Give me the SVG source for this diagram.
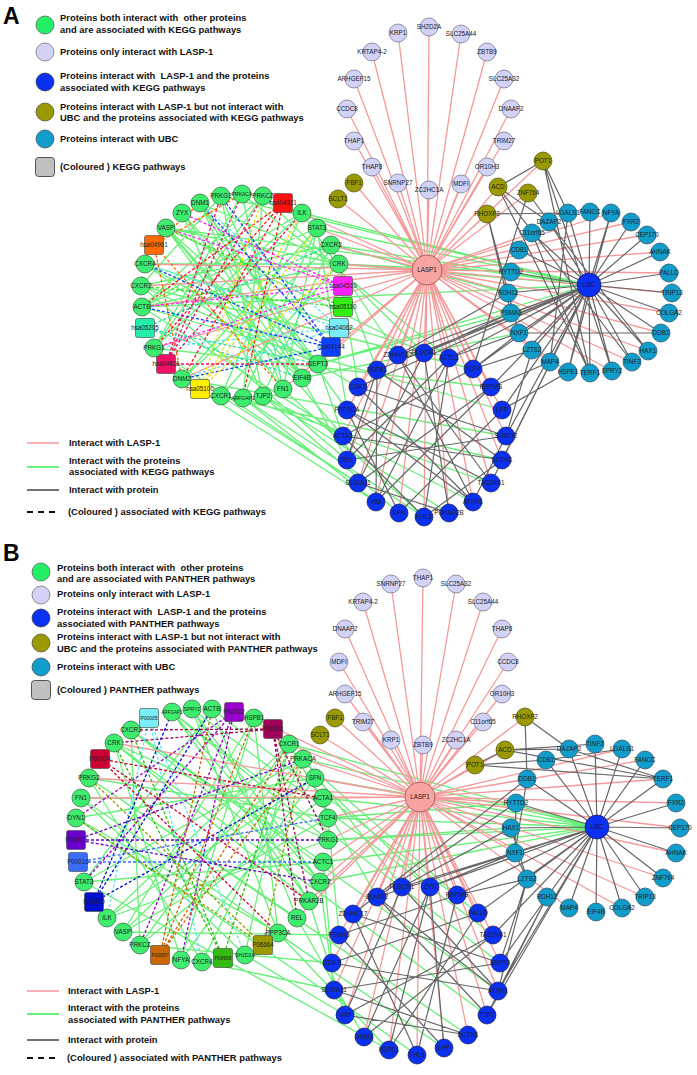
<svg xmlns="http://www.w3.org/2000/svg" width="697" height="1075" viewBox="0 0 697 1075">
<style>
text{font-family:"Liberation Sans",Arial,sans-serif;fill:#222}
.nd text{font-size:6.3px;text-anchor:middle}
.nd text.sm{font-size:5px}
.nd text.xs{font-size:4.6px}
.lg text{font-size:9.4px;font-weight:bold;fill:#111;white-space:pre}
.lg text.pl{font-size:23px;font-weight:bold;fill:#000}
.ng circle,.ng rect{fill:#3ded6e;stroke:#3a5a3a;stroke-width:.7}
.nl circle,.nl rect{fill:#d2d2f6;stroke:#6a6a82;stroke-width:.7}
.nb circle,.nb rect{fill:#0a30f2;stroke:#1a1a50;stroke-width:.7}
.no circle,.no rect{fill:#9a9a00;stroke:#4a4a10;stroke-width:.7}
.nt circle,.nt rect{fill:#119dcc;stroke:#2a4a5a;stroke-width:.7}
.nx circle{fill:#f7a3a0;stroke:#a05050;stroke-width:.8}
.sq rect{stroke:#555;stroke-width:.7}
.pk{stroke:#f59a9a;stroke-width:1.3;fill:none}
.gn{stroke:#66f077;stroke-width:1.3;fill:none}
.gy{stroke:#666;stroke-width:1.2;fill:none}
.ds{stroke-width:1.3;stroke-dasharray:3 2;fill:none}
</style>

<!-- ================= PANEL A ================= -->
<g id="connectors-A">
<path class="gn" d="M200 203L318 364M221 196L302 378M242 194L283 389M263 196L154 348M302 213L142 307M317 228L182 379M331 245L141 286M339 264L166 228M318 364L145 264M302 378L182 213M283 389L200 203M263 396L221 196M243 398L317 228M221 396L339 264M182 379L331 245M154 348L302 213M142 307L263 196M141 286L318 364M145 264L302 378M166 228L283 389M182 213L263 396M200 203L339 264M221 196L141 286M242 194L154 348M263 196L243 398M302 213L221 396M317 228L142 307M331 245L182 379M339 264L145 264M318 364L166 228M302 378L200 203M283 389L317 228M263 396L331 245M142 307L339 264M182 213L318 364M166 228L302 378
M243 398L376 502M263 396L399 513M221 396L358 483M283 389L424 517M302 378L347 460M318 364L343 436M200 203L347 410M154 348L358 483M182 379L376 502M142 307L343 436M339 264L358 387M331 245L377 370M317 228L347 410M302 213L398 355M263 196L424 353M242 194L449 358M141 286L347 460M145 264L358 387M243 398L424 517M263 396L449 513M166 228L343 436
M339 264L589 285M331 245L589 285M317 228L589 285M302 213L589 285M318 364L589 285M142 307L589 285M166 228L589 285M221 196L589 285M339 264L511 272M331 245L508 293M318 364L511 313M302 378L519 333
M473 369L141 286M491 387L154 348M502 410L142 307M506 436L182 379M502 460L221 396M491 483L243 398M473 502L263 396M449 358L145 264M424 353L166 228"/>
<path class="pk" d="M427 270L398 33M427 270L429 27M427 270L461 34M427 270L487 52M427 270L504 79M427 270L511 109M427 270L504 141M427 270L487 167M427 270L461 184M427 270L429 190M427 270L398 183M427 270L372 167M427 270L354 141M427 270L347 109M427 270L354 79M427 270L372 52
M427 270L354 183M427 270L338 199M427 270L543 161M427 270L498 187M427 270L528 193M427 270L487 214
M427 270L377 370M427 270L398 355M427 270L424 353M427 270L449 358M427 270L473 369M427 270L491 387M427 270L502 410M427 270L506 436M427 270L502 460M427 270L491 483M427 270L473 502M427 270L449 513M427 270L424 517M427 270L399 513M427 270L376 502M427 270L358 483M427 270L347 460M427 270L343 436M427 270L347 410M427 270L358 387
M427 270L660 252M427 270L669 273M427 270L672 293M427 270L669 313M427 270L661 333M427 270L648 351M427 270L632 362M427 270L612 371M427 270L647 235M427 270L631 222M427 270L611 213M427 270L532 233M427 270L550 362M427 270L568 372
M427 270L317 228M427 270L331 245M427 270L339 264M427 270L302 213M427 270L318 364M427 270L142 307M427 270L141 286M427 270L154 348M427 270L182 379M427 270L302 378M427 270L145 264M427 270L283 389"/>
<path class="gy" d="M589 285L660 252M589 285L669 273M589 285L672 293M589 285L669 313M589 285L661 333M589 285L648 351M589 285L632 362M589 285L612 371M589 285L590 373M589 285L568 372M589 285L550 362M589 285L532 350M589 285L519 333M589 285L511 313M589 285L508 293M589 285L511 272M589 285L519 250M589 285L532 233M589 285L549 222M589 285L568 213M589 285L590 212M589 285L611 213M589 285L631 222M589 285L647 235
M589 285L449 358M589 285L473 369M589 285L491 387M589 285L502 410M589 285L506 436M589 285L502 460M589 285L424 353M589 285L398 355M589 285L377 370M589 285L491 483M589 285L358 387
M543 161L498 187M543 161L568 213M543 161L590 373M543 161L612 371M498 187L549 222M498 187L632 362M498 187L590 373M528 193L473 369M528 193L549 222M487 214L511 313M487 214L568 213M487 214L519 333
M519 333L661 333M549 222L648 351M568 213L550 362M611 213L568 372M532 233L590 373
M519 333L449 358M519 333L473 369M532 350L473 369M511 313L424 353M550 362L491 387M508 293L398 355M568 372L502 410M532 350L506 436
M377 370L376 502M398 355L473 502M424 353L358 483M449 358L347 460M473 369L343 436M491 387L376 502M502 410L399 513M506 436L358 387M502 460L377 370M491 483L398 355M473 502L347 410M449 513L424 353M424 517L449 358M399 513L502 410M358 483L491 387M347 460L506 436M343 436L502 460M347 410L491 483M358 387L473 502M376 502L449 358M399 513L347 410M424 517L502 460M473 502L506 436M343 436L424 517M358 483L449 513M377 370L347 460"/>
<path class="ds" stroke="#ff1111" d="M283 203L154 348M283 203L182 379M283 203L142 307M283 203L243 398"/>
<path class="ds" stroke="#ff22ff" d="M343 286L166 228M343 286L142 307M343 286L182 213M343 286L154 348"/>
<path class="ds" stroke="#33dd11" d="M343 307L141 286M343 307L166 228"/>
<path class="ds" stroke="#55e8f5" d="M339 328L145 264M339 328L154 348M339 328L200 203M339 328L182 379"/>
<path class="ds" stroke="#1040ff" d="M331 347L200 203M331 347L142 307M331 347L182 379M331 347L221 196M331 347L145 264"/>
<path class="ds" stroke="#f2e000" d="M200 389L302 213M200 389L339 264M200 389L317 228M200 389L263 196"/>
<path class="ds" stroke="#ee1166" d="M166 364L263 196M166 364L242 194M166 364L221 196M166 364L302 213M166 364L318 364"/>
<path class="ds" stroke="#22ddaa" d="M145 328L331 245M145 328L318 364M145 328L302 378"/>
<path class="ds" stroke="#ff6a00" d="M154 245L200 203M154 245L182 379M154 245L242 194M154 245L283 389"/>
</g>

<g id="legend-A" class="lg">
<text class="pl" x="3" y="24">A</text>
<circle cx="45" cy="25" r="9" fill="#22ee66" stroke="#555" stroke-width=".7"/>
<text x="60" y="21">Proteins both interact with  other proteins</text>
<text x="60" y="33">and are associated with KEGG pathways</text>
<circle cx="45" cy="52" r="9" fill="#d2d2f6" stroke="#666" stroke-width=".7"/>
<text x="60" y="55">Proteins only interact with LASP-1</text>
<circle cx="45" cy="82" r="9" fill="#0a30f2" stroke="#333" stroke-width=".7"/>
<text x="60" y="79">Proteins interact with  LASP-1 and the proteins</text>
<text x="60" y="91">associated with KEGG pathways</text>
<circle cx="45" cy="112" r="9" fill="#9a9a00" stroke="#444" stroke-width=".7"/>
<text x="60" y="110">Proteins interact with LASP-1 but not interact with</text>
<text x="60" y="121">UBC and the proteins associated with KEGG pathways</text>
<circle cx="45" cy="139" r="9" fill="#119dcc" stroke="#444" stroke-width=".7"/>
<text x="60" y="142">Proteins interact with UBC</text>
<rect x="35.5" y="157.5" width="19" height="19" rx="3" fill="#c0c0c0" stroke="#444" stroke-width=".9"/>
<text x="60" y="170">(Coloured ) KEGG pathways</text>
<line x1="27" y1="443" x2="59" y2="443" stroke="#f59a9a" stroke-width="1.5"/>
<text x="69" y="446">Interact with LASP-1</text>
<line x1="27" y1="467" x2="59" y2="467" stroke="#33ee55" stroke-width="1.5"/>
<text x="69" y="464">Interact with the proteins</text>
<text x="69" y="475">associated with KEGG pathways</text>
<line x1="27" y1="490" x2="59" y2="490" stroke="#444" stroke-width="1.5"/>
<text x="69" y="493">Interact with protein</text>
<line x1="27" y1="512" x2="59" y2="512" stroke="#111" stroke-width="1.8" stroke-dasharray="6 5"/>
<text x="68" y="515">(Coloured ) associated with KEGG pathways</text>
</g>

<g class="nd">
<g id="a-KRP1" class="nl"><circle cx="398" cy="33" r="9"/><text x="398" y="35">KRP1</text></g>
<g id="a-SH2D2A" class="nl"><circle cx="429" cy="27" r="9"/><text x="429" y="29">SH2D2A</text></g>
<g id="a-SLC25A44" class="nl"><circle cx="461" cy="34" r="9"/><text x="461" y="36">SLC25A44</text></g>
<g id="a-ZBTB9" class="nl"><circle cx="487" cy="52" r="9"/><text x="487" y="54">ZBTB9</text></g>
<g id="a-SLC25A32" class="nl"><circle cx="504" cy="79" r="9"/><text x="504" y="81">SLC25A32</text></g>
<g id="a-DNAAF2" class="nl"><circle cx="511" cy="109" r="9"/><text x="511" y="111">DNAAF2</text></g>
<g id="a-TRIM27" class="nl"><circle cx="504" cy="141" r="9"/><text x="504" y="143">TRIM27</text></g>
<g id="a-OR10H3" class="nl"><circle cx="487" cy="167" r="9"/><text x="487" y="169">OR10H3</text></g>
<g id="a-MDFI" class="nl"><circle cx="461" cy="184" r="9"/><text x="461" y="186">MDFI</text></g>
<g id="a-ZC2HC1A" class="nl"><circle cx="429" cy="190" r="9"/><text x="429" y="192">ZC2HC1A</text></g>
<g id="a-SNRNP27" class="nl"><circle cx="398" cy="183" r="9"/><text x="398" y="185">SNRNP27</text></g>
<g id="a-THAP8" class="nl"><circle cx="372" cy="167" r="9"/><text x="372" y="169">THAP8</text></g>
<g id="a-THAP1" class="nl"><circle cx="354" cy="141" r="9"/><text x="354" y="143">THAP1</text></g>
<g id="a-CCDC8" class="nl"><circle cx="347" cy="109" r="9"/><text x="347" y="111">CCDC8</text></g>
<g id="a-ARHGEF15" class="nl"><circle cx="354" cy="79" r="9"/><text x="354" y="81">ARHGEF15</text></g>
<g id="a-KRTAP4-2" class="nl"><circle cx="372" cy="52" r="9"/><text x="372" y="54">KRTAP4-2</text></g>
<g id="a-FBF1" class="no"><circle cx="354" cy="183" r="9"/><text x="354" y="185">FBF1</text></g>
<g id="a-SCLT1" class="no"><circle cx="338" cy="199" r="9"/><text x="338" y="201">SCLT1</text></g>
<g id="a-POT1" class="no"><circle cx="543" cy="161" r="9"/><text x="543" y="163">POT1</text></g>
<g id="a-ACD" class="no"><circle cx="498" cy="187" r="9"/><text x="498" y="189">ACD</text></g>
<g id="a-ZNF764" class="no"><circle cx="528" cy="193" r="9"/><text x="528" y="195">ZNF764</text></g>
<g id="a-RHOXF2" class="no"><circle cx="487" cy="214" r="9"/><text x="487" y="216">RHOXF2</text></g>
<g id="a-LASP1" class="nx"><circle cx="427" cy="270" r="15"/><text x="427" y="272">LASP1</text></g>
<g id="a-UBC" class="nb"><circle cx="589" cy="285" r="12"/><text x="589" y="287">UBC</text></g>
<g id="a-AHNAK" class="nt"><circle cx="660" cy="252" r="9"/><text x="660" y="254">AHNAK</text></g>
<g id="a-PALLD" class="nt"><circle cx="669" cy="273" r="9"/><text x="669" y="275">PALLD</text></g>
<g id="a-TRIP13" class="nt"><circle cx="672" cy="293" r="9"/><text x="672" y="295">TRIP13</text></g>
<g id="a-COLGA2" class="nt"><circle cx="669" cy="313" r="9"/><text x="669" y="315">COLGA2</text></g>
<g id="a-DDB1" class="nt"><circle cx="661" cy="333" r="9"/><text x="661" y="335">DDB1</text></g>
<g id="a-HAX1" class="nt"><circle cx="648" cy="351" r="9"/><text x="648" y="353">HAX1</text></g>
<g id="a-TINF2" class="nt"><circle cx="632" cy="362" r="9"/><text x="632" y="364">TINF2</text></g>
<g id="a-SPRY2" class="nt"><circle cx="612" cy="371" r="9"/><text x="612" y="373">SPRY2</text></g>
<g id="a-TERF1" class="nt"><circle cx="590" cy="373" r="9"/><text x="590" y="375">TERF1</text></g>
<g id="a-HSPE1" class="nt"><circle cx="568" cy="372" r="9"/><text x="568" y="374">HSPE1</text></g>
<g id="a-MAP4" class="nt"><circle cx="550" cy="362" r="9"/><text x="550" y="364">MAP4</text></g>
<g id="a-LZTS2" class="nt"><circle cx="532" cy="350" r="9"/><text x="532" y="352">LZTS2</text></g>
<g id="a-NXF1" class="nt"><circle cx="519" cy="333" r="9"/><text x="519" y="335">NXF1</text></g>
<g id="a-PSMA3" class="nt"><circle cx="511" cy="313" r="9"/><text x="511" y="315">PSMA3</text></g>
<g id="a-RDH12" class="nt"><circle cx="508" cy="293" r="9"/><text x="508" y="295">RDH12</text></g>
<g id="a-RYTTD2" class="nt"><circle cx="511" cy="272" r="9"/><text x="511" y="274">RYTTD2</text></g>
<g id="a-CD81" class="nt"><circle cx="519" cy="250" r="9"/><text x="519" y="252">CD81</text></g>
<g id="a-C11orf65" class="nt"><circle cx="532" cy="233" r="9"/><text x="532" y="235">C11orf65</text></g>
<g id="a-DAZAP2" class="nt"><circle cx="549" cy="222" r="9"/><text x="549" y="224">DAZAP2</text></g>
<g id="a-LGALS1" class="nt"><circle cx="568" cy="213" r="9"/><text x="568" y="215">LGALS1</text></g>
<g id="a-FANCC" class="nt"><circle cx="590" cy="212" r="9"/><text x="590" y="214">FANCC</text></g>
<g id="a-NFYA" class="nt"><circle cx="611" cy="213" r="9"/><text x="611" y="215">NFYA</text></g>
<g id="a-FXR2" class="nt"><circle cx="631" cy="222" r="9"/><text x="631" y="224">FXR2</text></g>
<g id="a-CEP170" class="nt"><circle cx="647" cy="235" r="9"/><text x="647" y="237">CEP170</text></g>
<g id="a-HSPB1" class="nb"><circle cx="377" cy="370" r="9"/><text x="377" y="372">HSPB1</text></g>
<g id="a-ZDHHC17" class="nb"><circle cx="398" cy="355" r="9"/><text x="398" y="357">ZDHHC17</text></g>
<g id="a-PLSCR1" class="nb"><circle cx="424" cy="353" r="9"/><text x="424" y="355">PLSCR1</text></g>
<g id="a-ACTC1" class="nb"><circle cx="449" cy="358" r="9"/><text x="449" y="360">ACTC1</text></g>
<g id="a-TCF4" class="nb"><circle cx="473" cy="369" r="9"/><text x="473" y="371">TCF4</text></g>
<g id="a-RBPMS" class="nb"><circle cx="491" cy="387" r="9"/><text x="491" y="389">RBPMS</text></g>
<g id="a-LPP" class="nb"><circle cx="502" cy="410" r="9"/><text x="502" y="412">LPP</text></g>
<g id="a-SUMO2" class="nb"><circle cx="506" cy="436" r="9"/><text x="506" y="438">SUMO2</text></g>
<g id="a-DCTN1" class="nb"><circle cx="502" cy="460" r="9"/><text x="502" y="462">DCTN1</text></g>
<g id="a-TAS2R41" class="nb"><circle cx="491" cy="483" r="9"/><text x="491" y="485">TAS2R41</text></g>
<g id="a-ATXN1" class="nb"><circle cx="473" cy="502" r="9"/><text x="473" y="504">ATXN1</text></g>
<g id="a-PRKAR2B" class="nb"><circle cx="449" cy="513" r="9"/><text x="449" y="515">PRKAR2B</text></g>
<g id="a-FHL3" class="nb"><circle cx="424" cy="517" r="9"/><text x="424" y="519">FHL3</text></g>
<g id="a-SFN" class="nb"><circle cx="399" cy="513" r="9"/><text x="399" y="515">SFN</text></g>
<g id="a-VIM" class="nb"><circle cx="376" cy="502" r="9"/><text x="376" y="504">VIM</text></g>
<g id="a-S100A11" class="nb"><circle cx="358" cy="483" r="9"/><text x="358" y="485">S100A11</text></g>
<g id="a-REL" class="nb"><circle cx="347" cy="460" r="9"/><text x="347" y="462">REL</text></g>
<g id="a-ACTA1" class="nb"><circle cx="343" cy="436" r="9"/><text x="343" y="438">ACTA1</text></g>
<g id="a-PPP3CA" class="nb"><circle cx="347" cy="410" r="9"/><text x="347" y="412">PPP3CA</text></g>
<g id="a-CDK7" class="nb"><circle cx="358" cy="387" r="9"/><text x="358" y="389">CDK7</text></g>
<g id="a-DNM1" class="ng"><circle cx="200" cy="203" r="9"/><text x="200" y="205">DNM1</text></g>
<g id="a-PRKG2" class="ng"><circle cx="221" cy="196" r="9"/><text x="221" y="198">PRKG2</text></g>
<g id="a-PRKACA" class="ng"><circle cx="242" cy="194" r="9"/><text class="sm" x="242" y="196">PRKACA</text></g>
<g id="a-PRKCZ" class="ng"><circle cx="263" cy="196" r="9"/><text x="263" y="198">PRKCZ</text></g>
<g id="a-hsa04921" class="sq"><rect x="273.5" y="193.5" width="19" height="19" rx="2" fill="#ff1111"/><text x="283" y="205">hsa04921</text></g>
<g id="a-ILK" class="ng"><circle cx="302" cy="213" r="9"/><text x="302" y="215">ILK</text></g>
<g id="a-STAT3" class="ng"><circle cx="317" cy="228" r="9"/><text x="317" y="230">STAT3</text></g>
<g id="a-CXCR3" class="ng"><circle cx="331" cy="245" r="9"/><text x="331" y="247">CXCR3</text></g>
<g id="a-CRK" class="ng"><circle cx="339" cy="264" r="9"/><text x="339" y="266">CRK</text></g>
<g id="a-hsa04510" class="sq"><rect x="333.5" y="276.5" width="19" height="19" rx="2" fill="#ff22ff"/><text x="343" y="288">hsa04510</text></g>
<g id="a-hsa05110" class="sq"><rect x="333.5" y="297.5" width="19" height="19" rx="2" fill="#33ee11"/><text x="343" y="309">hsa05110</text></g>
<g id="a-hsa04062" class="sq"><rect x="329.5" y="318.5" width="19" height="19" rx="2" fill="#77eef8"/><text x="339" y="330">hsa04062</text></g>
<g id="a-hsa04144" class="sq"><rect x="321.5" y="337.5" width="19" height="19" rx="2" fill="#0a40ff"/><text x="331" y="349">hsa04144</text></g>
<g id="a-SEPT3" class="ng"><circle cx="318" cy="364" r="9"/><text x="318" y="366">SEPT3</text></g>
<g id="a-EIF4B" class="ng"><circle cx="302" cy="378" r="9"/><text x="302" y="380">EIF4B</text></g>
<g id="a-FN1" class="ng"><circle cx="283" cy="389" r="9"/><text x="283" y="391">FN1</text></g>
<g id="a-TJP2" class="ng"><circle cx="263" cy="396" r="9"/><text x="263" y="398">TJP2</text></g>
<g id="a-ARFGAP1" class="ng"><circle cx="243" cy="398" r="9"/><text class="sm" x="243" y="400">ARFGAP1</text></g>
<g id="a-CXCR1" class="ng"><circle cx="221" cy="396" r="9"/><text x="221" y="398">CXCR1</text></g>
<g id="a-hsa05100" class="sq"><rect x="190.5" y="379.5" width="19" height="19" rx="2" fill="#ffee00"/><text x="200" y="391">hsa05100</text></g>
<g id="a-DNM2" class="ng"><circle cx="182" cy="379" r="9"/><text x="182" y="381">DNM2</text></g>
<g id="a-hsa04611" class="sq"><rect x="156.5" y="354.5" width="19" height="19" rx="2" fill="#ee1166"/><text x="166" y="366">hsa04611</text></g>
<g id="a-PRKG1" class="ng"><circle cx="154" cy="348" r="9"/><text x="154" y="350">PRKG1</text></g>
<g id="a-hsa05205" class="sq"><rect x="135.5" y="318.5" width="19" height="19" rx="2" fill="#22eeaa"/><text x="145" y="330">hsa05205</text></g>
<g id="a-ACTB" class="ng"><circle cx="142" cy="307" r="9"/><text x="142" y="309">ACTB</text></g>
<g id="a-CXCR2" class="ng"><circle cx="141" cy="286" r="9"/><text x="141" y="288">CXCR2</text></g>
<g id="a-CXCR4" class="ng"><circle cx="145" cy="264" r="9"/><text x="145" y="266">CXCR4</text></g>
<g id="a-hsa04961" class="sq"><rect x="144.5" y="235.5" width="19" height="19" rx="2" fill="#ff6a00"/><text x="154" y="247">hsa04961</text></g>
<g id="a-VASP" class="ng"><circle cx="166" cy="228" r="9"/><text x="166" y="230">VASP</text></g>
<g id="a-ZYX" class="ng"><circle cx="182" cy="213" r="9"/><text x="182" y="215">ZYX</text></g>
</g>

<!-- ================= PANEL B ================= -->
<g id="connectors-B">
<path class="gn" d="M172 712L309 901M192 709L320 882M212 709L297 918M254 718L123 932M289 744L107 918M303 759L84 882M315 778L76 818M323 798L81 798M328 818L89 778M328 840L114 743M323 862L131 730M320 882L172 712M309 901L192 709M297 918L212 709M278 933L254 718M245 955L289 744M202 962L303 759M181 960L315 778M140 945L323 798M123 932L328 818M107 918L328 840M84 882L323 862M76 818L278 933M81 798L245 955M89 778L202 962M114 743L181 960M131 730L140 945M212 709L84 882M192 709L278 933M254 718L181 960M289 744L140 945M303 759L123 932M315 778L107 918M172 712L328 840M131 730L320 882M114 743L309 901M89 778L297 918
M328 818L339 935M323 862L332 963M320 882L334 990M309 901L345 1015M297 918L364 1037M278 933L389 1050M245 955L345 1015M202 962L334 990M140 945L332 963M123 932L339 935M289 744L377 897M303 759L402 887M315 778L430 887M254 718L457 895M212 709L478 913M192 709L493 935M172 712L500 963M131 730L498 991M114 743L487 1015M89 778L468 1035M81 798L444 1048M76 818L417 1055M84 882L389 1050
M323 798L597 827M328 818L597 827M328 840L597 827M323 862L597 827M315 778L597 827M303 759L597 827M289 744L597 827M320 882L597 827M328 818L516 803M328 840L511 828"/>
<path class="pk" d="M420 797L423 578M420 797L456 584M420 797L483 602M420 797L502 629M420 797L508 662M420 797L502 694M420 797L483 722M420 797L456 740M420 797L423 745M420 797L391 740M420 797L363 722M420 797L345 694M420 797L339 662M420 797L345 629M420 797L363 602M420 797L391 584
M420 797L335 718M420 797L320 735M420 797L525 717M420 797L505 750M420 797L475 765
M420 797L377 897M420 797L402 887M420 797L430 887M420 797L457 895M420 797L478 913M420 797L493 935M420 797L500 963M420 797L498 991M420 797L487 1015M420 797L468 1035M420 797L444 1048M420 797L417 1055M420 797L389 1050M420 797L364 1037M420 797L345 1015M420 797L334 990M420 797L332 963M420 797L339 935M420 797L353 914
M420 797L676 803M420 797L680 828M420 797L676 853M420 797L663 878M420 797L645 897M420 797L622 908M420 797L663 779M420 797L645 760M420 797L622 749M420 797L527 779M420 797L516 803M420 797L511 828M420 797L515 853M420 797L569 908
M420 797L289 744M420 797L303 759M420 797L315 778M420 797L323 798M420 797L328 818M420 797L328 840M420 797L323 862M420 797L320 882M420 797L309 901M420 797L297 918M420 797L89 778M420 797L81 798M420 797L114 743M420 797L254 718"/>
<path class="gy" d="M597 827L569 749M597 827L595 744M597 827L622 749M597 827L645 760M597 827L663 779M597 827L676 803M597 827L680 828M597 827L676 853M597 827L663 878M597 827L645 897M597 827L622 908M597 827L596 912M597 827L569 908M597 827L547 897M597 827L527 879M597 827L515 853M597 827L511 828M597 827L516 803M597 827L527 779M597 827L546 760
M597 827L457 895M597 827L478 913M597 827L493 935M597 827L500 963M597 827L498 991M597 827L430 887M597 827L402 887M597 827L487 1015M597 827L377 897
M525 717L569 749M525 717L527 779M505 750L569 749M505 750L663 779M475 765L546 760M475 765L663 779M475 765L505 750M505 750L595 744
M527 779L515 853M516 803L515 853M511 828L527 879M515 853L527 879M546 760L622 749M569 749L663 779
M527 879L500 963M527 879L498 991M547 897L498 991M547 897L487 1015M515 853L430 887M511 828L402 887M527 879L457 895M516 803L377 897M527 779L353 914
M377 897L487 1015M402 887L345 1015M430 887L364 1037M457 895L339 935M478 913L332 963M493 935L345 1015M500 963L353 914M498 991L377 897M468 1035L334 990M444 1048L430 887M417 1055L457 895M389 1050L478 913M364 1037L493 935M345 1015L468 1035M334 990L500 963M332 963L498 991M339 935L444 1048M353 914L417 1055M430 887L389 1050M402 887L498 991"/>
<path class="ds" stroke="#55e8f5" d="M149 718L245 955M149 718L202 962M149 718L107 918"/>
<path class="ds" stroke="#9a00cc" d="M234 712L140 945M234 712L84 882M234 712L181 960M234 712L76 818"/>
<path class="ds" stroke="#a0005a" d="M273 729L131 730M273 729L114 743M273 729L309 901M273 729L297 918M273 729L328 840"/>
<path class="ds" stroke="#9a9a00" d="M263 945L76 818M263 945L89 778M263 945L303 759"/>
<path class="ds" stroke="#33bb11" d="M223 958L114 743M223 958L131 730M223 958L289 744"/>
<path class="ds" stroke="#cc6600" d="M160 955L212 709M160 955L254 718M160 955L289 744M160 955L303 759"/>
<path class="ds" stroke="#0010cc" d="M94 902L212 709M94 902L315 778M94 902L172 712"/>
<path class="ds" stroke="#3a6cff" d="M78 862L323 862M78 862L328 818"/>
<path class="ds" stroke="#6a00cc" d="M76 840L328 840M76 840L303 759M76 840L320 882"/>
<path class="ds" stroke="#cc0033" d="M100 759L323 798M100 759L309 901M100 759L278 933"/>
</g>

<g id="legend-B" class="lg">
<text class="pl" x="3" y="561">B</text>
<circle cx="41" cy="572" r="9" fill="#22ee66" stroke="#555" stroke-width=".7"/>
<text x="57" y="571">Proteins both interact with  other proteins</text>
<text x="57" y="582">and are associated with PANTHER pathways</text>
<circle cx="41" cy="595" r="9" fill="#d2d2f6" stroke="#666" stroke-width=".7"/>
<text x="57" y="597">Proteins only interact with LASP-1</text>
<circle cx="41" cy="618" r="9" fill="#0a30f2" stroke="#333" stroke-width=".7"/>
<text x="57" y="615">Proteins interact with  LASP-1 and the proteins</text>
<text x="57" y="627">associated with PANTHER pathways</text>
<circle cx="41" cy="643" r="9" fill="#9a9a00" stroke="#444" stroke-width=".7"/>
<text x="57" y="640">Proteins interact with LASP-1 but not interact with</text>
<text x="57" y="652">UBC and the proteins associated with PANTHER pathways</text>
<circle cx="41" cy="667" r="9" fill="#119dcc" stroke="#444" stroke-width=".7"/>
<text x="57" y="670">Proteins interact with UBC</text>
<rect x="31.5" y="680.5" width="19" height="19" rx="3" fill="#c0c0c0" stroke="#444" stroke-width=".9"/>
<text x="57" y="693">(Coloured ) PANTHER pathways</text>
<line x1="27" y1="991" x2="59" y2="991" stroke="#f59a9a" stroke-width="1.5"/>
<text x="68" y="994">Interact with LASP-1</text>
<line x1="27" y1="1014" x2="59" y2="1014" stroke="#33ee55" stroke-width="1.5"/>
<text x="68" y="1011">Interact with the proteins</text>
<text x="68" y="1023">associated with PANTHER pathways</text>
<line x1="27" y1="1040" x2="59" y2="1040" stroke="#444" stroke-width="1.5"/>
<text x="68" y="1043">Interact with protein</text>
<line x1="27" y1="1058" x2="59" y2="1058" stroke="#111" stroke-width="1.8" stroke-dasharray="6 5"/>
<text x="67" y="1061">(Coloured ) associated with PANTHER pathways</text>
</g>

<g class="nd">
<g id="b-THAP1" class="nl"><circle cx="423" cy="578" r="9"/><text x="423" y="580">THAP1</text></g>
<g id="b-SLC25A32" class="nl"><circle cx="456" cy="584" r="9"/><text x="456" y="586">SLC25A32</text></g>
<g id="b-SLC25A44" class="nl"><circle cx="483" cy="602" r="9"/><text x="483" y="604">SLC25A44</text></g>
<g id="b-THAP8" class="nl"><circle cx="502" cy="629" r="9"/><text x="502" y="631">THAP8</text></g>
<g id="b-CCDC8" class="nl"><circle cx="508" cy="662" r="9"/><text x="508" y="664">CCDC8</text></g>
<g id="b-OR10H3" class="nl"><circle cx="502" cy="694" r="9"/><text x="502" y="696">OR10H3</text></g>
<g id="b-C11orf65" class="nl"><circle cx="483" cy="722" r="9"/><text x="483" y="724">C11orf65</text></g>
<g id="b-ZC2HC1A" class="nl"><circle cx="456" cy="740" r="9"/><text x="456" y="742">ZC2HC1A</text></g>
<g id="b-ZBTB9" class="nl"><circle cx="423" cy="745" r="9"/><text x="423" y="747">ZBTB9</text></g>
<g id="b-KRP1" class="nl"><circle cx="391" cy="740" r="9"/><text x="391" y="742">KRP1</text></g>
<g id="b-TRIM27" class="nl"><circle cx="363" cy="722" r="9"/><text x="363" y="724">TRIM27</text></g>
<g id="b-ARHGEF15" class="nl"><circle cx="345" cy="694" r="9"/><text x="345" y="696">ARHGEF15</text></g>
<g id="b-MDFI" class="nl"><circle cx="339" cy="662" r="9"/><text x="339" y="664">MDFI</text></g>
<g id="b-DNAAF2" class="nl"><circle cx="345" cy="629" r="9"/><text x="345" y="631">DNAAF2</text></g>
<g id="b-KRTAP4-2" class="nl"><circle cx="363" cy="602" r="9"/><text x="363" y="604">KRTAP4-2</text></g>
<g id="b-SNRNP27" class="nl"><circle cx="391" cy="584" r="9"/><text x="391" y="586">SNRNP27</text></g>
<g id="b-FBF1" class="no"><circle cx="335" cy="718" r="9"/><text x="335" y="720">FBF1</text></g>
<g id="b-SCLT1" class="no"><circle cx="320" cy="735" r="9"/><text x="320" y="737">SCLT1</text></g>
<g id="b-RHOXF2" class="no"><circle cx="525" cy="717" r="9"/><text x="525" y="719">RHOXF2</text></g>
<g id="b-ACD" class="no"><circle cx="505" cy="750" r="9"/><text x="505" y="752">ACD</text></g>
<g id="b-POT1" class="no"><circle cx="475" cy="765" r="9"/><text x="475" y="767">POT1</text></g>
<g id="b-LASP1" class="nx"><circle cx="420" cy="797" r="15"/><text x="420" y="799">LASP1</text></g>
<g id="b-UBC" class="nb"><circle cx="597" cy="827" r="12"/><text x="597" y="829">UBC</text></g>
<g id="b-DAZAP2" class="nt"><circle cx="569" cy="749" r="9"/><text x="569" y="751">DAZAP2</text></g>
<g id="b-TINF2" class="nt"><circle cx="595" cy="744" r="9"/><text x="595" y="746">TINF2</text></g>
<g id="b-LGALS1" class="nt"><circle cx="622" cy="749" r="9"/><text x="622" y="751">LGALS1</text></g>
<g id="b-FANCC" class="nt"><circle cx="645" cy="760" r="9"/><text x="645" y="762">FANCC</text></g>
<g id="b-TERF1" class="nt"><circle cx="663" cy="779" r="9"/><text x="663" y="781">TERF1</text></g>
<g id="b-FXR2" class="nt"><circle cx="676" cy="803" r="9"/><text x="676" y="805">FXR2</text></g>
<g id="b-CEP170" class="nt"><circle cx="680" cy="828" r="9"/><text x="680" y="830">CEP170</text></g>
<g id="b-AHNAK" class="nt"><circle cx="676" cy="853" r="9"/><text x="676" y="855">AHNAK</text></g>
<g id="b-ZNF764" class="nt"><circle cx="663" cy="878" r="9"/><text x="663" y="880">ZNF764</text></g>
<g id="b-TRIP13" class="nt"><circle cx="645" cy="897" r="9"/><text x="645" y="899">TRIP13</text></g>
<g id="b-COLGA2" class="nt"><circle cx="622" cy="908" r="9"/><text x="622" y="910">COLGA2</text></g>
<g id="b-EIF4B" class="nt"><circle cx="596" cy="912" r="9"/><text x="596" y="914">EIF4B</text></g>
<g id="b-MAP4" class="nt"><circle cx="569" cy="908" r="9"/><text x="569" y="910">MAP4</text></g>
<g id="b-RDH12" class="nt"><circle cx="547" cy="897" r="9"/><text x="547" y="899">RDH12</text></g>
<g id="b-LZTS2" class="nt"><circle cx="527" cy="879" r="9"/><text x="527" y="881">LZTS2</text></g>
<g id="b-NXF1" class="nt"><circle cx="515" cy="853" r="9"/><text x="515" y="855">NXF1</text></g>
<g id="b-HAX1" class="nt"><circle cx="511" cy="828" r="9"/><text x="511" y="830">HAX1</text></g>
<g id="b-RYTTD2" class="nt"><circle cx="516" cy="803" r="9"/><text x="516" y="805">RYTTD2</text></g>
<g id="b-DDB1" class="nt"><circle cx="527" cy="779" r="9"/><text x="527" y="781">DDB1</text></g>
<g id="b-CD81" class="nt"><circle cx="546" cy="760" r="9"/><text x="546" y="762">CD81</text></g>
<g id="b-SUMO2" class="nb"><circle cx="377" cy="897" r="9"/><text x="377" y="899">SUMO2</text></g>
<g id="b-PLSCR1" class="nb"><circle cx="402" cy="887" r="9"/><text x="402" y="889">PLSCR1</text></g>
<g id="b-ZYX" class="nb"><circle cx="430" cy="887" r="9"/><text x="430" y="889">ZYX</text></g>
<g id="b-RBPMS" class="nb"><circle cx="457" cy="895" r="9"/><text x="457" y="897">RBPMS</text></g>
<g id="b-PALLD" class="nb"><circle cx="478" cy="913" r="9"/><text x="478" y="915">PALLD</text></g>
<g id="b-TAS2R41" class="nb"><circle cx="493" cy="935" r="9"/><text x="493" y="937">TAS2R41</text></g>
<g id="b-SEPT3" class="nb"><circle cx="500" cy="963" r="9"/><text x="500" y="965">SEPT3</text></g>
<g id="b-ATXN1" class="nb"><circle cx="498" cy="991" r="9"/><text x="498" y="993">ATXN1</text></g>
<g id="b-TJP2" class="nb"><circle cx="487" cy="1015" r="9"/><text x="487" y="1017">TJP2</text></g>
<g id="b-DCTN1" class="nb"><circle cx="468" cy="1035" r="9"/><text x="468" y="1037">DCTN1</text></g>
<g id="b-LPP" class="nb"><circle cx="444" cy="1048" r="9"/><text x="444" y="1050">LPP</text></g>
<g id="b-FHL3" class="nb"><circle cx="417" cy="1055" r="9"/><text x="417" y="1057">FHL3</text></g>
<g id="b-HSPE1" class="nb"><circle cx="389" cy="1050" r="9"/><text x="389" y="1052">HSPE1</text></g>
<g id="b-DNM2" class="nb"><circle cx="364" cy="1037" r="9"/><text x="364" y="1039">DNM2</text></g>
<g id="b-VIM" class="nb"><circle cx="345" cy="1015" r="9"/><text x="345" y="1017">VIM</text></g>
<g id="b-S100A11" class="nb"><circle cx="334" cy="990" r="9"/><text x="334" y="992">S100A11</text></g>
<g id="b-CDK7" class="nb"><circle cx="332" cy="963" r="9"/><text x="332" y="965">CDK7</text></g>
<g id="b-PSMA3" class="nb"><circle cx="339" cy="935" r="9"/><text x="339" y="937">PSMA3</text></g>
<g id="b-ZDHHC17" class="nb"><circle cx="353" cy="914" r="9"/><text x="353" y="916">ZDHHC17</text></g>
<g id="b-P00005" class="sq"><rect x="139.5" y="708.5" width="19" height="19" rx="2" fill="#77eef8"/><text class="sm" x="149" y="720">P00005</text></g>
<g id="b-ARFGAP1" class="ng"><circle cx="172" cy="712" r="9"/><text class="xs" x="172" y="714">ARFGAP1</text></g>
<g id="b-SPRY2" class="ng"><circle cx="192" cy="709" r="9"/><text class="sm" x="192" y="711">SPRY2</text></g>
<g id="b-ACTB" class="ng"><circle cx="212" cy="709" r="9"/><text x="212" y="711">ACTB</text></g>
<g id="b-P00002" class="sq"><rect x="224.5" y="702.5" width="19" height="19" rx="2" fill="#9a00cc"/><text x="234" y="714">P00002</text></g>
<g id="b-HSPB1" class="ng"><circle cx="254" cy="718" r="9"/><text x="254" y="720">HSPB1</text></g>
<g id="b-P00031" class="sq"><rect x="263.5" y="719.5" width="19" height="19" rx="2" fill="#a0005a"/><text x="273" y="731">P00031</text></g>
<g id="b-CXCR1" class="ng"><circle cx="289" cy="744" r="9"/><text x="289" y="746">CXCR1</text></g>
<g id="b-PRKACA" class="ng"><circle cx="303" cy="759" r="9"/><text x="303" y="761">PRKACA</text></g>
<g id="b-SFN" class="ng"><circle cx="315" cy="778" r="9"/><text x="315" y="780">SFN</text></g>
<g id="b-ACTA1" class="ng"><circle cx="323" cy="798" r="9"/><text x="323" y="800">ACTA1</text></g>
<g id="b-TCF4" class="ng"><circle cx="328" cy="818" r="9"/><text x="328" y="820">TCF4</text></g>
<g id="b-PRKG1" class="ng"><circle cx="328" cy="840" r="9"/><text x="328" y="842">PRKG1</text></g>
<g id="b-ACTC1" class="ng"><circle cx="323" cy="862" r="9"/><text x="323" y="864">ACTC1</text></g>
<g id="b-CXCR2" class="ng"><circle cx="320" cy="882" r="9"/><text x="320" y="884">CXCR2</text></g>
<g id="b-PRKAR2B" class="ng"><circle cx="309" cy="901" r="9"/><text x="309" y="903">PRKAR2B</text></g>
<g id="b-REL" class="ng"><circle cx="297" cy="918" r="9"/><text x="297" y="920">REL</text></g>
<g id="b-PPP3CA" class="ng"><circle cx="278" cy="933" r="9"/><text x="278" y="935">PPP3CA</text></g>
<g id="b-P06664" class="sq"><rect x="253.5" y="935.5" width="19" height="19" rx="2" fill="#9a9a00"/><text x="263" y="947">P06664</text></g>
<g id="b-SH2D2A" class="ng"><circle cx="245" cy="955" r="9"/><text class="sm" x="245" y="957">SH2D2A</text></g>
<g id="b-P06959" class="sq"><rect x="213.5" y="948.5" width="19" height="19" rx="2" fill="#33bb11"/><text class="sm" x="223" y="960">P06959</text></g>
<g id="b-CXCR4" class="ng"><circle cx="202" cy="962" r="9"/><text x="202" y="964">CXCR4</text></g>
<g id="b-NFYA" class="ng"><circle cx="181" cy="960" r="9"/><text x="181" y="962">NFYA</text></g>
<g id="b-P00057" class="sq"><rect x="150.5" y="945.5" width="19" height="19" rx="2" fill="#cc6600"/><text class="sm" x="160" y="957">P00057</text></g>
<g id="b-PRKCZ" class="ng"><circle cx="140" cy="945" r="9"/><text x="140" y="947">PRKCZ</text></g>
<g id="b-VASP" class="ng"><circle cx="123" cy="932" r="9"/><text x="123" y="934">VASP</text></g>
<g id="b-ILK" class="ng"><circle cx="107" cy="918" r="9"/><text x="107" y="920">ILK</text></g>
<g id="b-P00010" class="sq"><rect x="84.5" y="892.5" width="19" height="19" rx="2" fill="#0010cc"/><text x="94" y="904">P00010</text></g>
<g id="b-STAT3" class="ng"><circle cx="84" cy="882" r="9"/><text x="84" y="884">STAT3</text></g>
<g id="b-P00016" class="sq"><rect x="68.5" y="852.5" width="19" height="19" rx="2" fill="#3a6cff"/><text x="78" y="864">P00016</text></g>
<g id="b-P00012" class="sq"><rect x="66.5" y="830.5" width="19" height="19" rx="2" fill="#6a00cc"/><text x="76" y="842">P00012</text></g>
<g id="b-DYN1" class="ng"><circle cx="76" cy="818" r="9"/><text x="76" y="820">DYN1</text></g>
<g id="b-FN1" class="ng"><circle cx="81" cy="798" r="9"/><text x="81" y="800">FN1</text></g>
<g id="b-PRKG2" class="ng"><circle cx="89" cy="778" r="9"/><text x="89" y="780">PRKG2</text></g>
<g id="b-P00034" class="sq"><rect x="90.5" y="749.5" width="19" height="19" rx="2" fill="#cc0033"/><text x="100" y="761">P00034</text></g>
<g id="b-CRK" class="ng"><circle cx="114" cy="743" r="9"/><text x="114" y="745">CRK</text></g>
<g id="b-CXCR3" class="ng"><circle cx="131" cy="730" r="9"/><text x="131" y="732">CXCR3</text></g>
</g>
</svg>
